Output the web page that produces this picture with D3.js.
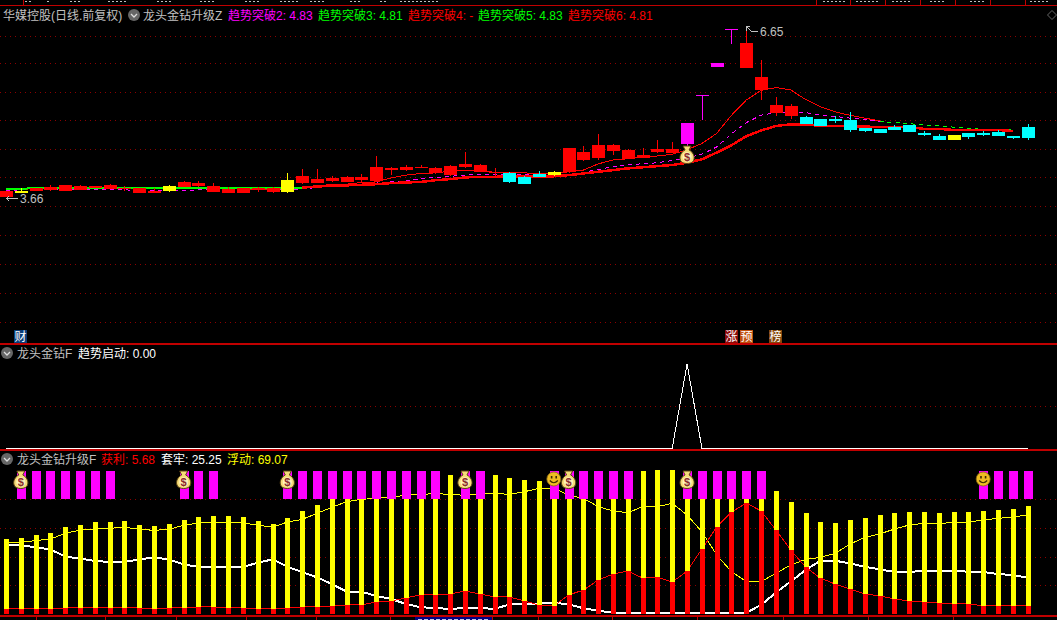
<!DOCTYPE html>
<html><head><meta charset="utf-8">
<script src="https://cdn.jsdelivr.net/npm/d3@7/dist/d3.min.js"></script>
<style>
html,body{margin:0;padding:0;background:#000;overflow:hidden}
svg{display:block}
text{font-family:"Liberation Sans","Noto Sans CJK SC",sans-serif;font-size:12px;text-rendering:optimizeSpeed}
</style></head><body>
<svg id="c" width="1057" height="620"></svg>
<script>
// ---- candlesticks ----
const opens = [3.66,3.74,3.77,3.79,3.77,3.79,3.82,3.80,3.80,3.73,3.73,3.77,3.84,3.86,3.75,3.73,3.73,3.81,3.75,3.75,3.91,3.91,3.95,3.93,3.96,3.95,4.14,4.14,4.18,4.09,4.05,4.19,4.11,4.08,4.09,4.02,4.07,4.06,4.11,4.32,4.35,4.48,4.34,4.35,4.46,4.44,4.60,5.45,5.96,6.62,5.95,5.56,5.15,5.10,5.08,5.04,5.04,5.03,4.88,4.87,4.90,4.94,4.80,4.74,4.67,4.80,4.80,4.81,4.74,4.90];
const closes = [3.77,3.77,3.82,3.84,3.88,3.86,3.86,3.88,3.82,3.82,3.77,3.86,3.93,3.91,3.86,3.80,3.82,3.82,3.82,3.96,4.03,3.98,4.00,4.02,4.02,4.19,4.18,4.19,4.19,4.18,4.21,4.25,4.23,4.11,3.93,3.89,4.02,4.11,4.53,4.46,4.58,4.58,4.50,4.41,4.51,4.51,4.97,5.46,6.03,6.63,6.39,5.79,5.29,5.27,4.96,4.92,5.01,4.85,4.83,4.80,4.85,4.81,4.76,4.67,4.76,4.72,4.76,4.74,4.71,4.71];
const highs = [3.77,3.83,3.83,3.88,3.88,3.88,3.86,3.89,3.85,3.82,3.83,3.88,3.95,3.95,3.91,3.84,3.82,3.84,3.84,4.09,4.16,4.16,4.03,4.03,4.07,4.39,4.19,4.23,4.23,4.19,4.23,4.46,4.25,4.18,4.11,4.03,4.12,4.12,4.53,4.57,4.78,4.60,4.51,4.53,4.67,4.64,4.97,5.46,6.03,6.63,6.65,6.09,5.43,5.31,5.10,5.04,5.10,5.17,4.88,4.87,4.94,4.94,4.83,4.78,4.76,4.80,4.83,4.85,4.74,4.96];
const lows = [3.66,3.74,3.77,3.77,3.77,3.79,3.82,3.80,3.77,3.73,3.73,3.75,3.84,3.84,3.75,3.73,3.73,3.75,3.73,3.73,3.89,3.91,3.93,3.93,3.93,3.95,4.05,4.12,4.18,4.07,4.03,4.18,4.11,4.03,3.91,3.89,4.02,4.03,4.09,4.30,4.32,4.41,4.34,4.35,4.44,4.44,4.55,5.03,5.96,6.37,5.95,5.38,5.10,5.04,4.96,4.92,4.97,4.81,4.81,4.80,4.85,4.81,4.74,4.67,4.67,4.69,4.74,4.74,4.69,4.67];
const yellowDays = [1,11,19,37,64];
const magentaDays = [46,47,48,49];
const cyanDays = [34,35,36,54,55,56,57,58,59,60,61,62,63,65,66,67,68,69];

// ---- trend lines on the price panel (start index + values) ----
const thickGreenStart = 0;
const thickGreen = [3.80,3.81,3.82,3.82,3.82,3.82,3.82,3.82,3.82,3.82,3.82,3.82,3.82,3.82,3.82,3.82,3.82,3.82,3.82,3.82,3.83];
const thickRedStart = 20;
const thickRed = [3.83,3.85,3.86,3.87,3.88,3.89,3.91,3.92,3.93,3.96,3.98,4.01,4.02,4.02,4.03,4.03,4.03,4.03,4.05,4.08,4.11,4.14,4.17,4.19,4.21,4.23,4.27,4.33,4.45,4.58,4.74,4.84,4.92,4.95,4.95,4.92,4.92,4.92,4.91,4.90,4.90,4.90,4.87,4.87,4.85,4.85,4.85,4.85,4.83];
const thinRed = [3.80,3.80,3.81,3.82,3.83,3.83,3.83,3.82,3.82,3.82,3.81,3.81,3.82,3.83,3.83,3.82,3.81,3.80,3.80,3.81,3.83,3.85,3.89,3.89,3.92,3.93,4.00,4.05,4.08,4.09,4.12,4.13,4.13,4.10,4.10,4.09,4.08,4.07,4.11,4.14,4.25,4.32,4.34,4.37,4.39,4.42,4.50,4.61,4.79,5.11,5.38,5.55,5.60,5.56,5.39,5.26,5.17,5.11,5.06,5.01];
const dashMagenta = [3.78,3.79,3.79,3.79,3.80,3.80,3.80,3.80,3.79,3.78,3.78,3.78,3.78,3.79,3.79,3.79,3.79,3.79,3.79,3.79,3.81,3.83,3.86,3.88,3.89,3.91,3.93,3.95,3.99,4.01,4.03,4.05,4.06,4.06,4.06,4.06,4.05,4.05,4.07,4.10,4.15,4.20,4.24,4.25,4.27,4.31,4.35,4.42,4.55,4.78,4.98,5.11,5.16,5.17,5.16,5.11,5.09,5.06,5.04,5.00];
const dashGreenStart = 59;
const dashGreen = [5.00,4.98,4.96,4.94,4.92,4.90,4.88,4.86,4.86,4.85];
const priceGrid = [6.52,6.03,5.52,5.02,4.51,4.01,3.50,2.99,2.47,1.96,1.46];

// ---- 趋势启动 panel ----
const signal = [0,0,0,0,0,0,0,0,0,0,0,0,0,0,0,0,0,0,0,0,0,0,0,0,0,0,0,0,0,0,0,0,0,0,0,0,0,0,0,0,0,0,0,0,0,0,1,0,0,0,0,0,0,0,0,0,0,0,0,0,0,0,0,0,0,0,0,0,0,0];
const signalGrid = [0.5];

// ---- 获利 / 套牢 / 浮动 panel ----
const profit = [3.5,3.5,3.5,3.5,4.2,4.2,4.2,4.2,4.2,4.2,3.5,4.2,4.2,4.9,4.9,4.2,4.2,3.5,3.5,4.2,4.9,4.9,5.6,6.3,6.3,8.4,9.1,11.2,13.3,13.3,14,16,14,11.9,11.9,9.1,6.3,5.6,13.3,16.7,23.7,27.9,30,25.1,25.8,22.3,30,45.3,60.7,71.2,77.4,71.9,58.6,44.7,32.8,25.1,20.9,17.4,14,12.6,10.5,9.1,8.4,7.7,7,7,5.7,5.7,5.7,5.68];
const floating = [50.2,50.2,51.2,52.3,56.3,58.6,59.3,59.8,60.5,59.1,58.4,59.1,61.9,63.5,64,64,63.5,62.1,60.5,64.2,66,70.2,74.4,78.4,80,80.7,81.4,83,83.5,84,83.5,82.8,83.5,84.2,83.5,85.3,87.7,87.7,83,80.7,74.9,71.9,70.7,74.9,74.9,77.2,69.1,57.4,41.2,29.5,22.6,22.6,28.4,34.2,38.1,39.5,42.3,48.8,53.5,55.8,59.3,62.1,63.3,63.3,63.7,64.2,65.6,66.7,67.7,69.07];
const trapped = [48.1,48.1,46.5,45.1,40,38.8,37,36.3,36.3,38.1,39.5,38.1,34.7,32.8,32.8,32.8,32.8,35.8,38.1,33,29.3,25.6,20.9,15.6,15.6,12.6,10.5,7,4.7,4.2,3.5,4.2,4.2,3.5,6.7,6.7,7.2,7.9,6.7,4,2.3,0.9,0.9,0.9,0.9,0.9,0.9,0.9,0.9,0.9,0.9,6.3,14.9,22.6,30.7,37.2,37.2,35.3,33,31.2,29.3,29.3,30.2,30.2,30.2,29.5,29.3,27.9,27.2,25.25];
const stackTop = [52.3,53,55.1,56.5,60.7,62.1,64.2,64.2,64.9,62.1,61.4,62.8,65.6,67.7,68.4,68.4,67.7,64.9,62.8,67,71.9,76,80,84.7,86.3,89.1,90.5,94.2,96.8,97.3,97,98.8,97.5,97,94.9,93.5,92.8,93.3,96.3,97.4,98.6,99.8,100,99.8,100.5,100.5,99,100,100,99,99,94.5,85.8,78.1,70.5,64.2,63.5,65.6,67,69.1,70.5,71.2,71.2,70.5,71.2,71.2,71.9,72.6,73.3,75.3];
const flagDays = [1,2,3,4,5,6,7,12,13,14,19,20,21,22,23,24,25,26,27,28,29,31,32,37,38,39,40,41,42,46,47,48,49,50,51,66,67,68,69];
const bagDays = [1,12,19,31,38,46];
const smileDays = [37,66];
const riskGrid = [20,40,60,80];
const flagRange = [80,100];

// ---- frame ticks and the cropped strips at the window edges ----
const bottomTicks = [36,105,176,246,316,390,492,538,612,697,783,868,953];
const topCells = [816,850,885,920,955,990,1025];
const topScraps = [[25,6],[47,4],[70,10],[108,18],[157,16],[200,15],[245,15],[280,20],[310,16],[350,10],[380,6],[400,40],[823,22],[856,24],[892,20],[930,15],[970,15],[1030,20]];

const svg = d3.select("#c");
const RED="#ff0000",YEL="#ffff00",MAG="#ff00ff",CYA="#00ffff",GRN="#00ff00",GRAY="#c0c0c0",WHT="#ffffff",FRAME="#c00000",DOT="#8c0000";
svg.append("rect").attr("width",1057).attr("height",620).attr("fill","#000");

const idx = d3.range(70);
const x = d3.scalePoint().domain(idx).range([6,1027.6]);
const yP = d3.scaleLinear().domain([6.65,3.66]).range([28.25,197.2]);
const yS = d3.scaleLinear().domain([0,1]).range([448,364]);
const yR = d3.scaleLinear().domain([0,100]).range([614,470.7]);
const px = v => Math.round(v)+0.5;

function grid(scale, vals){
  svg.append("g").selectAll("line").data(vals).join("line")
    .attr("x1",0).attr("x2",1057).attr("y1",d=>px(scale(d))).attr("y2",d=>px(scale(d)))
    .attr("stroke",DOT).attr("stroke-dasharray","1,4").attr("shape-rendering","crispEdges");
}
grid(yP,priceGrid); grid(yS,signalGrid); grid(yR,riskGrid);

// frame
[[5,1],[343,2],[449,2],[615,2]].forEach(([y,w])=>{
  svg.append("rect").attr("x",0).attr("y",y).attr("width",1057).attr("height",w).attr("fill",FRAME);
});
svg.append("rect").attr("x",23).attr("y",0).attr("width",1).attr("height",5).attr("fill",FRAME);
svg.append("g").selectAll("rect").data(topCells).join("rect")
  .attr("x",d=>d).attr("y",0).attr("width",1).attr("height",5).attr("fill",FRAME);
svg.append("g").selectAll("line").data(topScraps).join("line")
  .attr("x1",d=>d[0]).attr("x2",d=>d[0]+d[1]).attr("y1",1.5).attr("y2",1.5)
  .attr("stroke",GRAY).attr("stroke-dasharray","2,2").attr("shape-rendering","crispEdges");
svg.append("g").selectAll("rect").data(bottomTicks).join("rect")
  .attr("x",d=>d).attr("y",617).attr("width",1).attr("height",3).attr("fill",FRAME);
svg.append("rect").attr("x",415).attr("y",617).attr("width",77).attr("height",3).attr("fill","#000080");
svg.append("line").attr("x1",418).attr("x2",490).attr("y1",619.5).attr("y2",619.5)
  .attr("stroke","#c8c8e8").attr("stroke-dasharray","4,2").attr("shape-rendering","crispEdges");

function lineOf(values,start,scale,color,width,dash){
  const g = d3.line().x((d,i)=>x(i+start)).y(d=>scale(d));
  const p = svg.append("path").attr("d",g(values)).attr("fill","none").attr("stroke",color)
    .attr("stroke-width",width).attr("shape-rendering","crispEdges");
  if(dash) p.attr("stroke-dasharray",dash);
  return p;
}
// price panel
lineOf(dashMagenta,0,yP,MAG,1,"4,4");
lineOf(dashGreen,dashGreenStart,yP,GRN,1,"4,4");
lineOf(thinRed,0,yP,RED,1);
lineOf(thickGreen,thickGreenStart,yP,GRN,2);
lineOf(thickRed,thickRedStart,yP,RED,2.5);

const colorOf = i => yellowDays.includes(i)?YEL : magentaDays.includes(i)?MAG : cyanDays.includes(i)?CYA : RED;
const cg = svg.append("g").attr("shape-rendering","crispEdges");
cg.selectAll(".wick").data(idx).join("rect").attr("class","wick")
  .attr("x",i=>Math.round(x(i))).attr("width",1)
  .attr("y",i=>yP(highs[i])).attr("height",i=>Math.max(1,yP(lows[i])-yP(highs[i])))
  .attr("fill",colorOf);
cg.selectAll(".body").data(idx).join("rect").attr("class","body")
  .attr("x",i=>Math.round(x(i))-6).attr("width",13)
  .attr("y",i=>yP(Math.max(opens[i],closes[i])))
  .attr("height",i=>Math.max(1,Math.abs(yP(opens[i])-yP(closes[i]))))
  .attr("fill",colorOf);

// price extremes
const lab = svg.append("g").attr("fill",GRAY);
lab.append("text").attr("x",20).attr("y",203).text("3.66");
svg.append("path").attr("d","M6 198.5H18M6 198.5l3 -2M6 198.5l3 2").attr("stroke",GRAY).attr("fill","none").attr("shape-rendering","crispEdges");
lab.append("text").attr("x",760).attr("y",36).text("6.65");
svg.append("path").attr("d","M746 26v5M746 26h4M746 26l5 5h7").attr("stroke",GRAY).attr("fill","none").attr("shape-rendering","crispEdges");

// signal panel
lineOf(signal,0,yS,WHT,1);

// risk panel
lineOf(trapped,0,yR,WHT,2);
lineOf(floating,0,yR,YEL,1);
lineOf(profit,0,yR,RED,1);
const rg = svg.append("g").attr("shape-rendering","crispEdges");
rg.selectAll(".ybar").data(idx).join("rect").attr("class","ybar")
  .attr("x",i=>Math.round(x(i))-2).attr("width",5)
  .attr("y",i=>yR(stackTop[i])).attr("height",i=>yR(0)-yR(stackTop[i])).attr("fill",YEL);
rg.selectAll(".rbar").data(idx).join("rect").attr("class","rbar")
  .attr("x",i=>Math.round(x(i))-2).attr("width",5)
  .attr("y",i=>yR(profit[i])).attr("height",i=>yR(0)-yR(profit[i])).attr("fill",RED);
rg.selectAll(".mbar").data(flagDays).join("rect").attr("class","mbar")
  .attr("x",i=>Math.round(x(i))-4).attr("width",9)
  .attr("y",yR(flagRange[1])).attr("height",yR(flagRange[0])-yR(flagRange[1])).attr("fill",MAG);

function bag(cx,cy){
  const g = svg.append("g").attr("transform",`translate(${cx},${cy})`);
  g.append("path").attr("d","M-4 -9H4L2 -5C6 -3 7.5 1 7 4C6.5 7.5 3 8.5 0 8.5C-3 8.5 -6.5 7.5 -7 4C-7.5 1 -6 -3 -2 -5Z")
    .attr("fill","#f6dc78").attr("stroke","#5a4210").attr("stroke-width",1);
  g.append("ellipse").attr("cy",2).attr("rx",4.6).attr("ry",4.8).attr("fill","#fff2b8");
  g.append("text").attr("y",6).attr("text-anchor","middle").attr("fill","#8a2c2c").style("font-size","11px").style("font-weight","bold").text("$");
}
function smile(cx,cy){
  const g = svg.append("g").attr("transform",`translate(${cx},${cy})`);
  g.append("circle").attr("r",7).attr("fill","#eebc22").attr("stroke","#8a6a10").attr("stroke-width",.8);
  g.append("rect").attr("x",-3).attr("y",-3).attr("width",1.6).attr("height",2.5).attr("fill","#3a2a00");
  g.append("rect").attr("x",1.6).attr("y",-3).attr("width",1.6).attr("height",2.5).attr("fill","#3a2a00");
  g.append("path").attr("d","M-4 1.5Q0 6 4 1.5").attr("fill","none").attr("stroke","#3a2a00").attr("stroke-width",1.2);
}
bagDays.forEach(i=>bag(x(i),480));
smileDays.forEach(i=>smile(x(i),479));
bag(x(46),155);

// titles
function chip(cx,cy){
  svg.append("circle").attr("cx",cx).attr("cy",cy).attr("r",6).attr("fill","#666");
  svg.append("path").attr("d",`M${cx-3} ${cy-1}L${cx} ${cy+2}L${cx+3} ${cy-1}`).attr("fill","none").attr("stroke","#ddd").attr("stroke-width",1.3);
}
const titles = [
 ["华媒控股(日线.前复权)",3,20,GRAY],["龙头金钻升级Z",143,20,GRAY],
 ["趋势突破2: 4.83",228,20,MAG],["趋势突破3: 4.81",318,20,GRN],["趋势突破4: -",408,20,RED],
 ["趋势突破5: 4.83",478,20,GRN],["趋势突破6: 4.81",568,20,RED],
 ["龙头金钻F",17,358,GRAY],["趋势启动: 0.00",78,358,WHT],
 ["龙头金钻升级F",17,464,GRAY],["获利: 5.68",101,464,RED],["套牢: 25.25",161,464,WHT],["浮动: 69.07",227,464,YEL]
];
svg.append("g").selectAll("text").data(titles).join("text")
  .attr("x",d=>d[1]).attr("y",d=>d[2]).attr("fill",d=>d[3]).text(d=>d[0]);
chip(134,15); chip(7,353); chip(7,459);

// badges
const badges = [["财",14,"#0a3d78"],["涨",725,"#8c0a0a"],["预",740,"#c0500f"],["榜",769,"#84470c"]];
const bg = svg.append("g");
bg.selectAll("rect").data(badges).join("rect").attr("x",d=>d[1]).attr("y",330).attr("width",13).attr("height",13).attr("fill",d=>d[2]);
bg.selectAll("text").data(badges).join("text").attr("x",d=>d[1]+.5).attr("y",341).attr("fill",WHT).text(d=>d[0]);

// corner diamond
svg.append("path").attr("d","M1052 10.5l4.5 4.5l-4.5 4.5l-4.5 -4.5Z").attr("fill","none").attr("stroke","#666");
</script>
</body></html>
